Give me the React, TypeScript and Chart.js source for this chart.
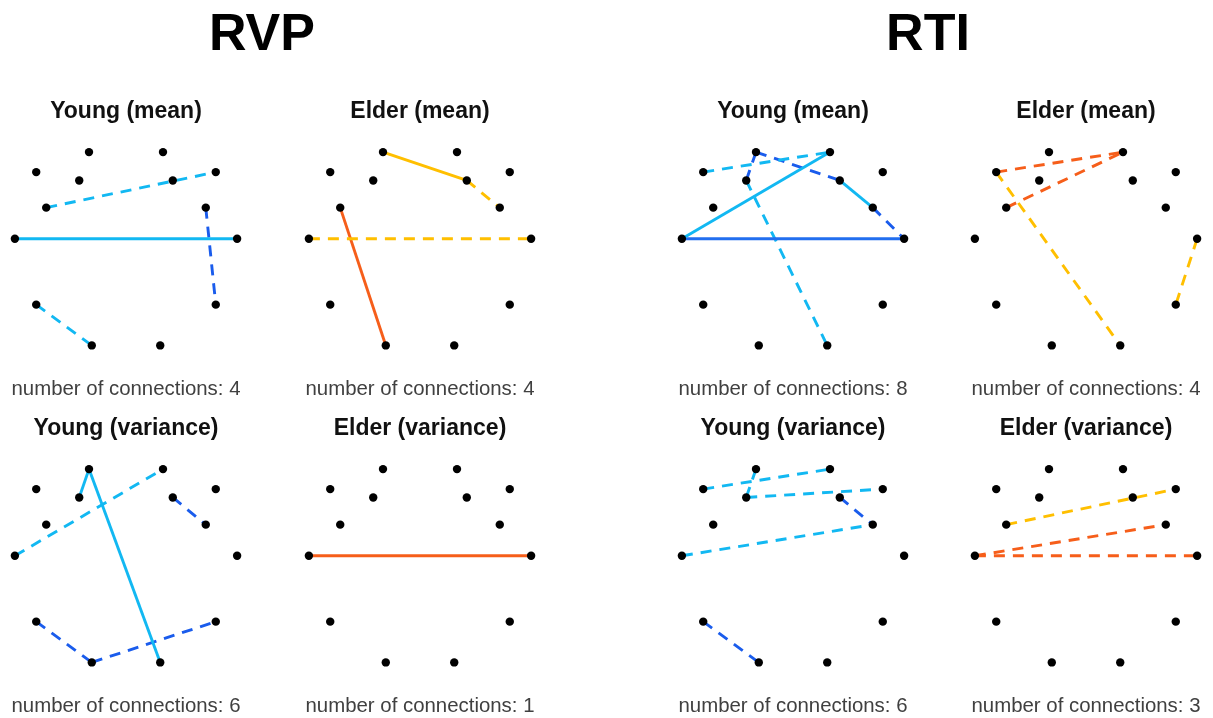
import React, { useEffect, useRef } from 'react';
import { Chart, registerables } from 'chart.js';

Chart.register(...registerables);

// Electrode layout (normalised: T3/T4 at x = ±1, centre row at y = 0)
const nodeNames = ['Fp1', 'Fp2', 'F7', 'F8', 'F3', 'F4', 'FC5', 'FC6', 'T3', 'T4', 'T5', 'T6', 'O1', 'O2'];
const nodeX = [-0.333, 0.333, -0.808, 0.808, -0.421, 0.421, -0.718, 0.718, -1, 1, -0.808, 0.808, -0.308, 0.308];
const nodeY = [0.78, 0.78, 0.6, 0.6, 0.525, 0.525, 0.28, 0.28, 0, 0, -0.593, -0.593, -0.96, -0.96];

// Connections: [from, to, tone, line type]
type Edge = [number, number, string, string];
const rvpYoungMean: Edge[] = [
  [6, 3, 'light', 'dashed'],
  [8, 9, 'light', 'solid'],
  [7, 11, 'dark', 'dashed'],
  [10, 12, 'light', 'dashed'],
];
const rvpElderMean: Edge[] = [
  [0, 5, 'yellow', 'solid'],
  [5, 7, 'yellow', 'dashed'],
  [8, 9, 'yellow', 'dashed'],
  [6, 12, 'orange', 'solid'],
];
const rtiYoungMean: Edge[] = [
  [2, 1, 'light', 'dashed'],
  [8, 1, 'light', 'solid'],
  [8, 9, 'mid', 'solid'],
  [0, 5, 'dark', 'dashed'],
  [5, 7, 'light', 'solid'],
  [7, 9, 'dark', 'dashed'],
  [0, 4, 'dark', 'dashed'],
  [4, 13, 'light', 'dashed'],
];
const rtiElderMean: Edge[] = [
  [2, 1, 'orange', 'dashed'],
  [6, 1, 'orange', 'dashed'],
  [2, 13, 'yellow', 'dashed'],
  [9, 11, 'yellow', 'dashed'],
];
const rvpYoungVar: Edge[] = [
  [0, 4, 'light', 'solid'],
  [0, 13, 'light', 'solid'],
  [8, 1, 'light', 'dashed'],
  [5, 7, 'dark', 'dashed'],
  [10, 12, 'dark', 'dashed'],
  [12, 11, 'dark', 'dashed'],
];
const rvpElderVar: Edge[] = [[8, 9, 'orange', 'solid']];
const rtiYoungVar: Edge[] = [
  [2, 1, 'light', 'dashed'],
  [0, 4, 'light', 'dashed'],
  [4, 3, 'light', 'dashed'],
  [5, 7, 'dark', 'dashed'],
  [8, 7, 'light', 'dashed'],
  [10, 12, 'dark', 'dashed'],
];
const rtiElderVar: Edge[] = [
  [6, 3, 'yellow', 'dashed'],
  [8, 7, 'orange', 'dashed'],
  [8, 9, 'orange', 'dashed'],
];

const groupTitles = ['RVP', 'RTI'];
const panelTitles = [
  'Young (mean)', 'Elder (mean)', 'Young (mean)', 'Elder (mean)',
  'Young (variance)', 'Elder (variance)', 'Young (variance)', 'Elder (variance)',
];
const panelEdges = [
  rvpYoungMean, rvpElderMean, rtiYoungMean, rtiElderMean,
  rvpYoungVar, rvpElderVar, rtiYoungVar, rtiElderVar,
];

const TONES: Record<string, string> = {
  light: '#12B8F2',
  dark: '#1A5CEC',
  mid: '#226EEF',
  orange: '#F65E1A',
  yellow: '#FFBF00',
};

const FONT = "'Liberation Sans', Arial, Helvetica, sans-serif";
const COL_CX = [125.5, 419.7, 792.5, 1085.7];
const ROW_TOP = [80, 397];
const CW = 260;
const CH = 324;

function Panel({ title, edges, left, top }: { title: string; edges: Edge[]; left: number; top: number }) {
  const ref = useRef<HTMLCanvasElement>(null);
  useEffect(() => {
    if (!ref.current) return;
    const nodes = nodeX.map((x, i) => ({ x, y: nodeY[i], name: nodeNames[i] }));
    const datasets: any[] = [
      {
        label: 'nodes',
        data: nodes,
        pointRadius: 4.2,
        pointBackgroundColor: '#000',
        pointBorderWidth: 0,
        showLine: false,
        order: 0,
      },
    ];
    edges.forEach(([a, b, tone, kind]) => {
      datasets.push({
        label: `${nodeNames[a]}-${nodeNames[b]}`,
        data: [nodes[a], nodes[b]],
        showLine: true,
        borderColor: TONES[tone],
        borderWidth: 2.9,
        borderDash: kind === 'dashed' ? [11, 8] : [],
        pointRadius: 0,
        fill: false,
        order: 1,
      });
    });
    const chart = new Chart(ref.current, {
      type: 'scatter',
      data: { datasets },
      options: {
        responsive: false,
        animation: false,
        devicePixelRatio: 1,
        events: [],
        layout: { padding: { left: 10, right: 10, top: 0, bottom: 0 } },
        scales: {
          x: { type: 'linear', min: -1.08, max: 1.08, display: false },
          y: { type: 'linear', min: -1.05, max: 0.87, display: false },
        },
        plugins: {
          legend: { display: false },
          tooltip: { enabled: false },
          title: {
            display: true,
            text: title,
            color: '#111111',
            font: { family: FONT, size: 23, weight: 'bold', lineHeight: 1.2 },
            padding: { top: 18, bottom: 16.5 },
          },
          subtitle: {
            display: true,
            position: 'bottom',
            text: `number of connections: ${edges.length}`,
            color: '#404040',
            font: { family: FONT, size: 20.4, lineHeight: 1.2 },
            padding: { top: 21.8, bottom: 2.3 },
          },
        },
      } as any,
    });
    return () => chart.destroy();
  }, [title, edges]);
  return (
    <canvas
      ref={ref}
      width={CW}
      height={CH}
      style={{ position: 'absolute', left, top, width: CW, height: CH }}
    />
  );
}

export default function App() {
  const headingCenters = [262, 928];
  return (
    <div style={{ position: 'fixed', left: 0, top: 0, width: 1213, height: 718, background: '#fff', overflow: 'hidden' }}>
      {groupTitles.map((t, i) => (
        <div
          key={t}
          style={{
            position: 'absolute',
            left: headingCenters[i] - 100,
            top: 6,
            width: 200,
            textAlign: 'center',
            fontFamily: FONT,
            fontWeight: 'bold',
            fontSize: 52,
            lineHeight: '52px',
            color: '#000',
          }}
        >
          {t}
        </div>
      ))}
      {panelTitles.map((t, i) => (
        <Panel
          key={i}
          title={t}
          edges={panelEdges[i]}
          left={COL_CX[i % 4] - CW / 2}
          top={ROW_TOP[Math.floor(i / 4)]}
        />
      ))}
    </div>
  );
}
